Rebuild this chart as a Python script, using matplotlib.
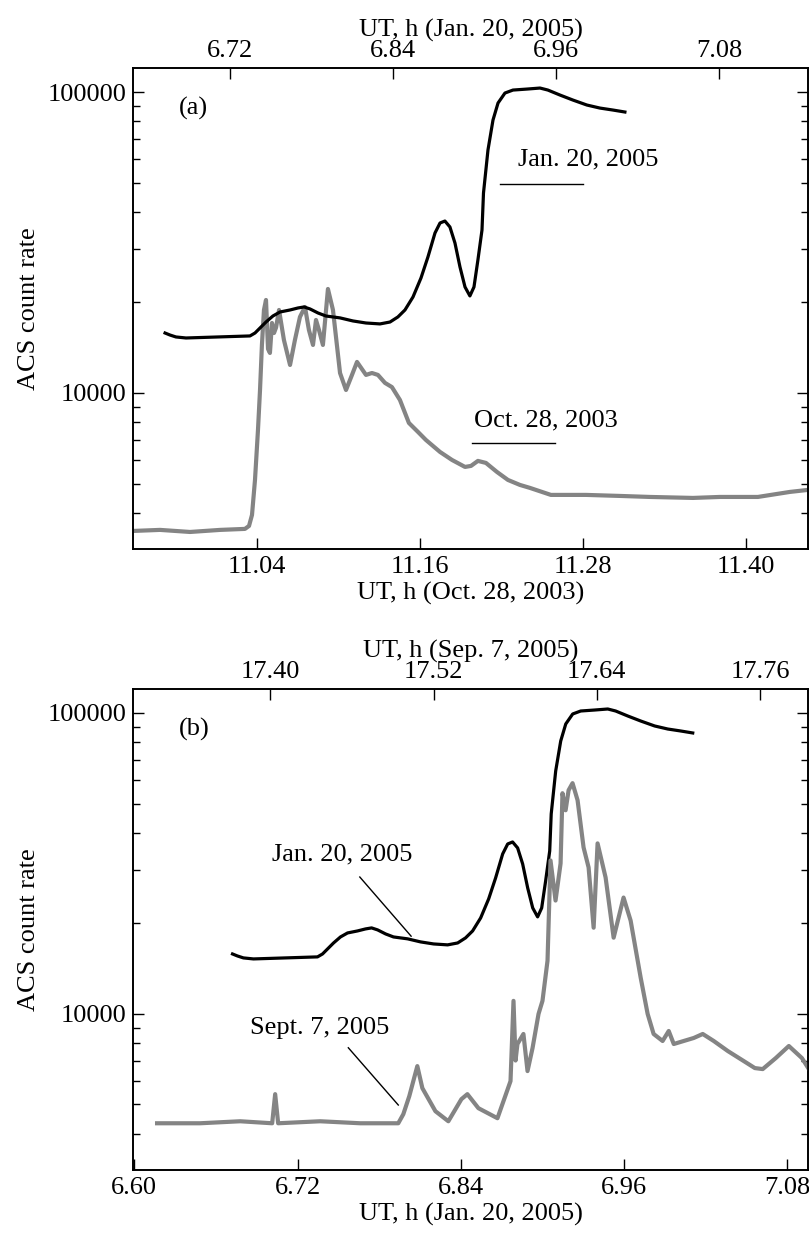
import matplotlib
matplotlib.use("Agg")
import matplotlib.pyplot as plt
from matplotlib.ticker import FixedLocator, FuncFormatter, LogLocator, NullFormatter

plt.rcParams['font.family'] = ['Liberation Serif', 'DejaVu Serif']

# Jan. 20, 2005 : UT (h) and ACS count rate
jan_t = [6.6722, 6.6758, 6.6802, 6.6876, 6.7347, 6.7384, 6.7421, 6.7465, 6.7516,
         6.7568, 6.7642, 6.7700, 6.7745, 6.7789, 6.7848, 6.7906, 6.8010, 6.8105,
         6.8201, 6.8304, 6.8378, 6.8436, 6.8488, 6.8547, 6.8606, 6.8657, 6.8709,
         6.8746, 6.8782, 6.8819, 6.8856, 6.8893, 6.8930, 6.8966, 6.8996, 6.9025,
         6.9055, 6.9066, 6.9099, 6.9136, 6.9173, 6.9224, 6.9283, 6.9386, 6.9482,
         6.9540, 6.9629, 6.9724, 6.9827, 6.9923, 7.0019, 7.0107]
jan_c = [15820, 15580, 15350, 15230, 15470, 15820, 16440, 17210, 18020,
         18580, 18870, 19160, 19310, 19020, 18440, 18020, 17760, 17350,
         17080, 16960, 17210, 17890, 18870, 20840, 24110, 28300, 34010,
         36710, 37270, 35610, 31500, 26220, 22500, 21010, 22500, 27670,
         34800, 46180, 64170, 80720, 91940, 99240, 101530, 102300, 103100,
         101530, 97730, 94060, 90540, 88460, 87130, 85820]

# Oct. 28, 2003
oct_t = [10.9487, 10.9686, 10.9907, 11.0128, 11.0311, 11.0341, 11.0363, 11.0385,
         11.0407, 11.0422, 11.0436, 11.0451, 11.0466, 11.0481, 11.0495, 11.0510,
         11.0525, 11.0540, 11.0562, 11.0598, 11.0643, 11.0679, 11.0716, 11.0753,
         11.0782, 11.0812, 11.0834, 11.0856, 11.0885, 11.0922, 11.0959, 11.1011,
         11.1055, 11.1099, 11.1136, 11.1202, 11.1246, 11.1290, 11.1342, 11.1393,
         11.1452, 11.1518, 11.1585, 11.1643, 11.1747, 11.1835, 11.1931, 11.1975,
         11.2026, 11.2085, 11.2166, 11.2247, 11.2335, 11.2409, 11.2563, 11.2821,
         11.3071, 11.3292, 11.3609, 11.3807, 11.4087, 11.4323, 11.4455]
oct_c = [3479, 3507, 3452, 3507, 3534, 3615, 3932, 5140,
         7535, 10230, 14440, 18870, 20370, 14000, 13580, 17080,
         15820, 16500, 18870, 15000, 12390, 15000, 17890, 19310,
         16190, 14440, 17480, 16190, 14440, 22160, 18870, 11650,
         10230, 11480, 12680, 11480, 11650, 11480, 10800, 10460,
         9478, 7949, 7420, 6981, 6368, 5990, 5678, 5722,
         5946, 5855, 5464, 5140, 4948, 4836, 4584, 4584,
         4548, 4513, 4479, 4513, 4513, 4690, 4762]

# Sept. 7, 2005
sep_t = [17.3168, 17.3484, 17.3779, 17.4014, 17.4036, 17.4058, 17.4367, 17.4662,
         17.4941, 17.4978, 17.5022, 17.5081, 17.5118, 17.5214, 17.5309, 17.5405,
         17.5449, 17.5530, 17.5670, 17.5722, 17.5766, 17.5788, 17.5803, 17.5817,
         17.5861, 17.5891, 17.5928, 17.5972, 17.6001, 17.6038, 17.6060, 17.6097,
         17.6134, 17.6148, 17.6171, 17.6193, 17.6222, 17.6259, 17.6303, 17.6340,
         17.6377, 17.6406, 17.6465, 17.6524, 17.6597, 17.6649, 17.6723, 17.6774,
         17.6818, 17.6884, 17.6929, 17.6966, 17.7039, 17.7113, 17.7179, 17.7260,
         17.7363, 17.7481, 17.7562, 17.7620, 17.7716, 17.7812, 17.7908, 17.7959]
sep_c = [4331, 4331, 4398, 4331, 5412, 4331, 4398, 4331,
         4331, 4642, 5330, 6708, 5667, 4750, 4398, 5208,
         5412, 4861, 4501, 5248, 5979, 11050, 7000, 7943,
         8577, 6457, 7703, 10000, 11050, 15020, 32360, 23810,
         31620, 54120, 47510, 55380, 58450, 51290, 35760, 30670,
         19340, 36870, 28400, 17920, 24360, 20420, 13180, 10000,
         8577, 8128, 8775, 7943, 8128, 8318, 8577, 8128,
         7529, 6969, 6607, 6556, 7133, 7822, 7133, 6556]

ylim = (3030, 120200)
a_bottom = (10.9487, 11.4456)
a_top = (6.6486, 7.1455)
b_bottom = (6.599, 7.0955)
b_top = (17.2991, 17.7953)
a_bottom_ticks = [11.04, 11.16, 11.28, 11.40]
a_top_ticks = [6.72, 6.84, 6.96, 7.08]
b_bottom_ticks = [6.60, 6.72, 6.84, 6.96, 7.08]
b_top_ticks = [17.40, 17.52, 17.64, 17.76]

fs = 19
gray = '#848484'


def style_x(ax, xlim, ticks, label, top=False):
    ax.set_xlim(*xlim)
    ax.xaxis.set_major_locator(FixedLocator(ticks))
    ax.xaxis.set_major_formatter(FuncFormatter(lambda v, p: '%.2f' % v))
    ax.set_xlabel(label, fontsize=fs, labelpad=3)
    if top:
        ax.xaxis.set_label_position('top')
        ax.tick_params(axis='x', which='major', top=True, bottom=False, labeltop=True,
                       labelbottom=False, direction='in', length=8, width=1,
                       labelsize=fs, pad=4)
    else:
        ax.tick_params(axis='x', which='major', top=False, bottom=True,
                       direction='in', length=8, width=1, labelsize=fs, pad=5)


def make_panel(rect, bot_lim, bot_ticks, bot_label, top_lim, top_ticks, top_label, tag):
    ax = fig.add_axes(rect)
    ax.set_yscale('log')
    axt = ax.twiny()
    ax.set_ylim(*ylim)
    ax.yaxis.set_major_locator(FixedLocator([10000, 100000]))
    ax.yaxis.set_major_formatter(FuncFormatter(lambda v, p: '%d' % v))
    ax.yaxis.set_minor_locator(LogLocator(base=10, subs=range(2, 10)))
    ax.yaxis.set_minor_formatter(NullFormatter())
    ax.tick_params(axis='y', which='major', left=True, right=True, direction='in',
                   length=8, width=1, labelsize=fs, pad=5)
    ax.tick_params(axis='y', which='minor', left=True, right=True, direction='in',
                   length=5, width=1)
    ax.set_ylabel('ACS count rate', fontsize=fs, labelpad=5)
    style_x(ax, bot_lim, bot_ticks, bot_label)
    style_x(axt, top_lim, top_ticks, top_label, top=True)
    for a in (ax, axt):
        for s in a.spines.values():
            s.set_linewidth(1.2)
    ax.text(0.09, 0.915, tag, transform=ax.transAxes, fontsize=fs,
            ha='center', va='center')
    return ax, axt


fig = plt.figure(figsize=(8.09, 12.34), dpi=100)

# panel (a): Oct. 28, 2003 on bottom axis, Jan. 20, 2005 on top axis
ax_a, axt_a = make_panel([0.1644, 0.5551, 0.8344, 0.3898],
                         a_bottom, a_bottom_ticks, 'UT, h (Oct. 28, 2003)',
                         a_top, a_top_ticks, 'UT, h (Jan. 20, 2005)', '(a)')
ax_a.plot(oct_t, oct_c, color=gray, lw=3.0, solid_joinstyle='round')
axt_a.plot(jan_t, jan_c, color='black', lw=2.3, solid_joinstyle='round')
ax_a.text(0.675, 0.809, 'Jan. 20, 2005', transform=ax_a.transAxes, fontsize=fs,
          ha='center', va='center')
ax_a.plot([0.544, 0.667], [0.759, 0.759], transform=ax_a.transAxes, color='black', lw=1)
ax_a.text(0.612, 0.268, 'Oct. 28, 2003', transform=ax_a.transAxes, fontsize=fs,
          ha='center', va='center')
ax_a.plot([0.502, 0.625], [0.220, 0.220], transform=ax_a.transAxes, color='black', lw=1)

# panel (b): Jan. 20, 2005 on bottom axis, Sept. 7, 2005 on top axis
ax_b, axt_b = make_panel([0.1644, 0.0519, 0.8344, 0.3898],
                         b_bottom, b_bottom_ticks, 'UT, h (Jan. 20, 2005)',
                         b_top, b_top_ticks, 'UT, h (Sep. 7, 2005)', '(b)')
axt_b.plot(sep_t, sep_c, color=gray, lw=3.0, solid_joinstyle='round')
ax_b.plot(jan_t, jan_c, color='black', lw=2.3, solid_joinstyle='round')
ax_b.text(0.31, 0.655, 'Jan. 20, 2005', transform=ax_b.transAxes, fontsize=fs,
          ha='center', va='center')
ax_b.plot([0.336, 0.412], [0.609, 0.486], transform=ax_b.transAxes, color='black', lw=1)
ax_b.text(0.276, 0.295, 'Sept. 7, 2005', transform=ax_b.transAxes, fontsize=fs,
          ha='center', va='center')
ax_b.plot([0.319, 0.393], [0.254, 0.135], transform=ax_b.transAxes, color='black', lw=1)

fig.savefig('out.png', dpi=100)
